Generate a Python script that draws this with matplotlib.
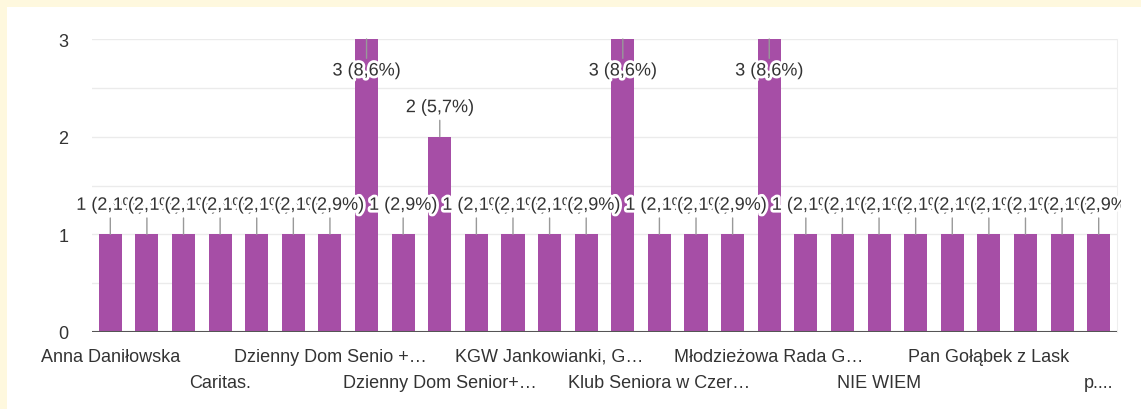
import matplotlib
matplotlib.use("Agg")
import matplotlib.pyplot as plt
import matplotlib.patheffects as pe
from matplotlib.patches import Rectangle
from matplotlib.transforms import blended_transform_factory, Bbox, TransformedBbox

plt.rcParams['font.family'] = ['Liberation Sans', 'DejaVu Sans']

# Visible category labels (only every third one is printed on the chart)
categories = [
    "Anna Daniłowska", "", "", "Caritas.", "", "", "Dzienny Dom Senio +…",
    "", "", "Dzienny Dom Senior+…", "", "", "KGW Jankowianki, G…", "", "",
    "Klub Seniora w Czer…", "", "", "Młodzieżowa Rada G…", "", "", "NIE WIEM",
    "", "", "Pan Gołąbek z Lask", "", "", "p....",
]
counts = [1, 1, 1, 1, 1, 1, 1, 3, 1, 2, 1, 1, 1, 1,
          3, 1, 1, 1, 3, 1, 1, 1, 1, 1, 1, 1, 1, 1]
y_ticks = [0, 1, 2, 3]

total = sum(counts)
bar_color = '#a64ea6'
text_color = '#333333'

W, H = 1141, 410
fig = plt.figure(figsize=(W / 100, H / 100), dpi=100)
fig.patch.set_facecolor('#fef8de')
fig.patches.append(Rectangle((7 / W, 0), 1 - 7 / W, 1 - 8 / H, transform=fig.transFigure,
                             facecolor='white', edgecolor='none', zorder=-10))

ax = fig.add_axes([92 / W, 77 / H, (1117 - 92) / W, (333 - 40) / H])
ax.set_facecolor('none')
ax.set_zorder(1)

x = list(range(len(counts)))
ax.bar(x, counts, width=0.63, color=bar_color, zorder=2)

ax.set_xlim(-0.5, len(counts) - 0.5)
ax.set_ylim(0, 3)

# grid every half step, labels only on integers
for g in [0.5, 1, 1.5, 2, 2.5, 3]:
    ax.axhline(g, color='#ebebeb', lw=1, zorder=1)
ax.axhline(0, color='#555555', lw=1.5, zorder=3)

for s in ['top', 'left', 'bottom']:
    ax.spines[s].set_visible(False)
ax.spines['right'].set_color('#eeeeee')

ax.set_yticks(y_ticks)
ax.set_yticklabels([str(t) for t in y_ticks])
ax.tick_params(axis='y', length=0, pad=17, labelsize=13, labelcolor=text_color)
ax.set_xticks([])

# value labels are cut off at the right edge of the chart area
clip = TransformedBbox(Bbox([[0, 0], [1121 / W, 1]]), fig.transFigure)

# value labels with stems
halo = [pe.withStroke(linewidth=4, foreground='white')]
for i, v in enumerate(counts):
    pct = f"{100 * v / total:.1f}".replace('.', ',')
    label = f"{v} ({pct}%)"
    if v >= ax.get_ylim()[1]:
        off = -32
    else:
        off = 29
    t = ax.annotate(label, xy=(i, v), xytext=(0, off), textcoords='offset pixels',
                    ha='center', va='center', fontsize=13, color=text_color,
                    path_effects=halo, zorder=4,
                    arrowprops=dict(arrowstyle='-', color='#999999', lw=1,
                                    shrinkA=1, shrinkB=0))
    t.set_clip_on(True)
    t.set_clip_box(clip)

# category labels, every third, in two staggered rows
trans = blended_transform_factory(ax.transData, ax.transAxes)
for i, name in enumerate(categories):
    if i % 3 != 0:
        continue
    row = (i // 3) % 2
    ypos = -0.082 if row == 0 else -0.171
    ax.text(i, ypos, name, transform=trans, ha='center', va='center',
            fontsize=13, color=text_color)

plt.savefig('out.png', dpi=100, facecolor=fig.get_facecolor())
